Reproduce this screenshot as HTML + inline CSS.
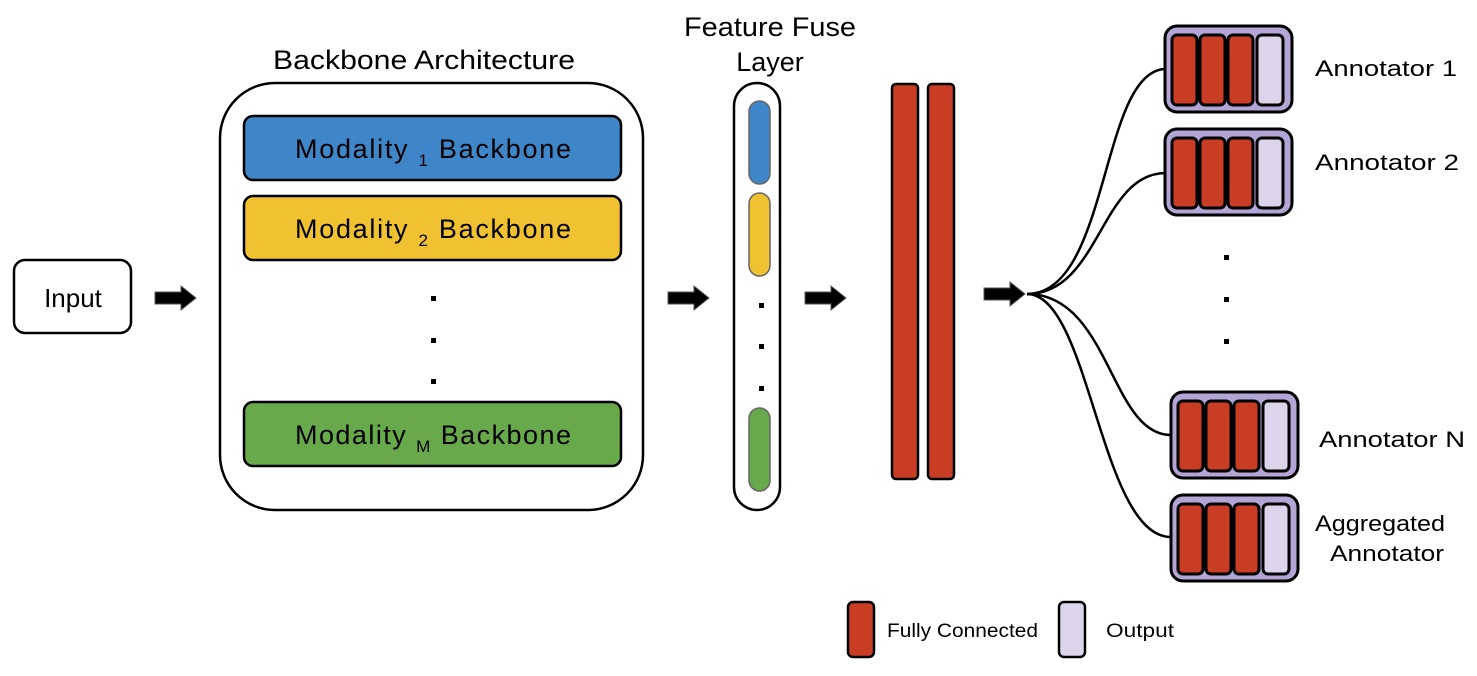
<!DOCTYPE html>
<html><head><meta charset="utf-8"><style>
html,body{margin:0;padding:0;background:#fff;}
svg{display:block;font-family:"Liberation Sans",sans-serif;}
</style></head><body>
<svg width="1477" height="676" viewBox="0 0 1477 676" xmlns="http://www.w3.org/2000/svg">
<defs>
<g id="arr"><path d="M0,-6 H26 V-12 L41,0 L26,12 V6 H0 Z" fill="#000" stroke="#555" stroke-width="1"/></g>
<g id="ann">
<rect x="0" y="0" width="127" height="86" rx="12" fill="#b3a6d6" stroke="#000" stroke-width="3"/>
<rect x="7" y="9" width="25" height="70" rx="5" fill="#c93d25" stroke="#000" stroke-width="3"/>
<rect x="35" y="9" width="25" height="70" rx="5" fill="#c93d25" stroke="#000" stroke-width="3"/>
<rect x="63" y="9" width="25" height="70" rx="5" fill="#c93d25" stroke="#000" stroke-width="3"/>
<rect x="92" y="9" width="26" height="70" rx="5" fill="#dbd4ea" stroke="#000" stroke-width="3"/>
</g>
</defs>
<rect x="14" y="260" width="117" height="73" rx="11" fill="#fff" stroke="#000" stroke-width="2.5"/>
<text x="73" y="307" font-size="26" text-anchor="middle">Input</text>
<use href="#arr" x="155" y="298"/>
<text x="424" y="69" font-size="27" text-anchor="middle" textLength="302" lengthAdjust="spacingAndGlyphs">Backbone Architecture</text>
<rect x="220" y="83" width="423" height="427" rx="55" fill="#fff" stroke="#000" stroke-width="2.5"/>
<rect x="244" y="116" width="377" height="64" rx="9" fill="#3f86c8" stroke="#000" stroke-width="2.5"/>
<rect x="244" y="196" width="377" height="64" rx="9" fill="#f0c232" stroke="#000" stroke-width="2.5"/>
<rect x="244" y="402" width="377" height="64" rx="9" fill="#68a94c" stroke="#000" stroke-width="2.5"/>
<text x="433" y="158" font-size="27" text-anchor="middle" textLength="276">Modality <tspan font-size="17" dy="8">1</tspan><tspan dy="-8"> Backbone</tspan></text>
<text x="433" y="238" font-size="27" text-anchor="middle" textLength="276">Modality <tspan font-size="17" dy="8">2</tspan><tspan dy="-8"> Backbone</tspan></text>
<text x="433" y="444" font-size="27" text-anchor="middle" textLength="276">Modality <tspan font-size="17" dy="8">M</tspan><tspan dy="-8"> Backbone</tspan></text>
<rect x="431" y="296" width="5" height="5"/><rect x="431" y="338" width="5" height="5"/><rect x="431" y="379" width="5" height="5"/>
<use href="#arr" x="668" y="298"/>
<text x="770" y="36" font-size="27" text-anchor="middle" textLength="172" lengthAdjust="spacingAndGlyphs">Feature Fuse</text>
<text x="770" y="71" font-size="27" text-anchor="middle">Layer</text>
<rect x="734" y="83" width="46" height="427" rx="23" fill="#fff" stroke="#000" stroke-width="2.5"/>
<rect x="749" y="101" width="21" height="83" rx="10.5" fill="#3f86c8" stroke="#666" stroke-width="1.5"/>
<rect x="749" y="193" width="21" height="83" rx="10.5" fill="#f0c232" stroke="#666" stroke-width="1.5"/>
<rect x="749" y="408" width="21" height="83" rx="10.5" fill="#68a94c" stroke="#666" stroke-width="1.5"/>
<rect x="759" y="303" width="5" height="5"/><rect x="759" y="344" width="5" height="5"/><rect x="759" y="386" width="5" height="5"/>
<use href="#arr" x="805" y="298"/>
<rect x="892" y="84" width="26" height="395" rx="4" fill="#c93d25" stroke="#000" stroke-width="2.5"/>
<rect x="928" y="84" width="26" height="395" rx="4" fill="#c93d25" stroke="#000" stroke-width="2.5"/>
<use href="#arr" x="984" y="294"/>
<g fill="none" stroke="#000" stroke-width="2.5">
<path d="M1027,294 C1110,294 1100,69 1166,69"/>
<path d="M1027,294 C1100,294 1100,173 1166,173"/>
<path d="M1027,294 C1110,294 1110,435 1171,435"/>
<path d="M1027,294 C1090,294 1100,537 1171,537"/>
</g>
<use href="#ann" x="1165" y="26"/>
<use href="#ann" x="1165" y="129"/>
<use href="#ann" x="1171" y="392"/>
<use href="#ann" x="1171" y="495"/>
<rect x="1224" y="255" width="5" height="5"/><rect x="1224" y="297" width="5" height="5"/><rect x="1224" y="339" width="5" height="5"/>
<text x="1315" y="76" font-size="22" textLength="142" lengthAdjust="spacingAndGlyphs">Annotator  1</text>
<text x="1315" y="170" font-size="22" textLength="144" lengthAdjust="spacingAndGlyphs">Annotator  2</text>
<text x="1319" y="447" font-size="22" textLength="146" lengthAdjust="spacingAndGlyphs">Annotator  N</text>
<text x="1380" y="531" font-size="22" text-anchor="middle" textLength="130" lengthAdjust="spacingAndGlyphs">Aggregated</text>
<text x="1387" y="561" font-size="22" text-anchor="middle" textLength="114" lengthAdjust="spacingAndGlyphs">Annotator</text>
<rect x="848" y="602" width="26" height="55" rx="5" fill="#c93d25" stroke="#000" stroke-width="2.5"/>
<text x="887" y="637" font-size="19" textLength="151" lengthAdjust="spacingAndGlyphs">Fully Connected</text>
<rect x="1059" y="602" width="26" height="55" rx="5" fill="#dbd4ea" stroke="#000" stroke-width="2.5"/>
<text x="1106" y="637" font-size="19" textLength="68" lengthAdjust="spacingAndGlyphs">Output</text>
</svg>
</body></html>
